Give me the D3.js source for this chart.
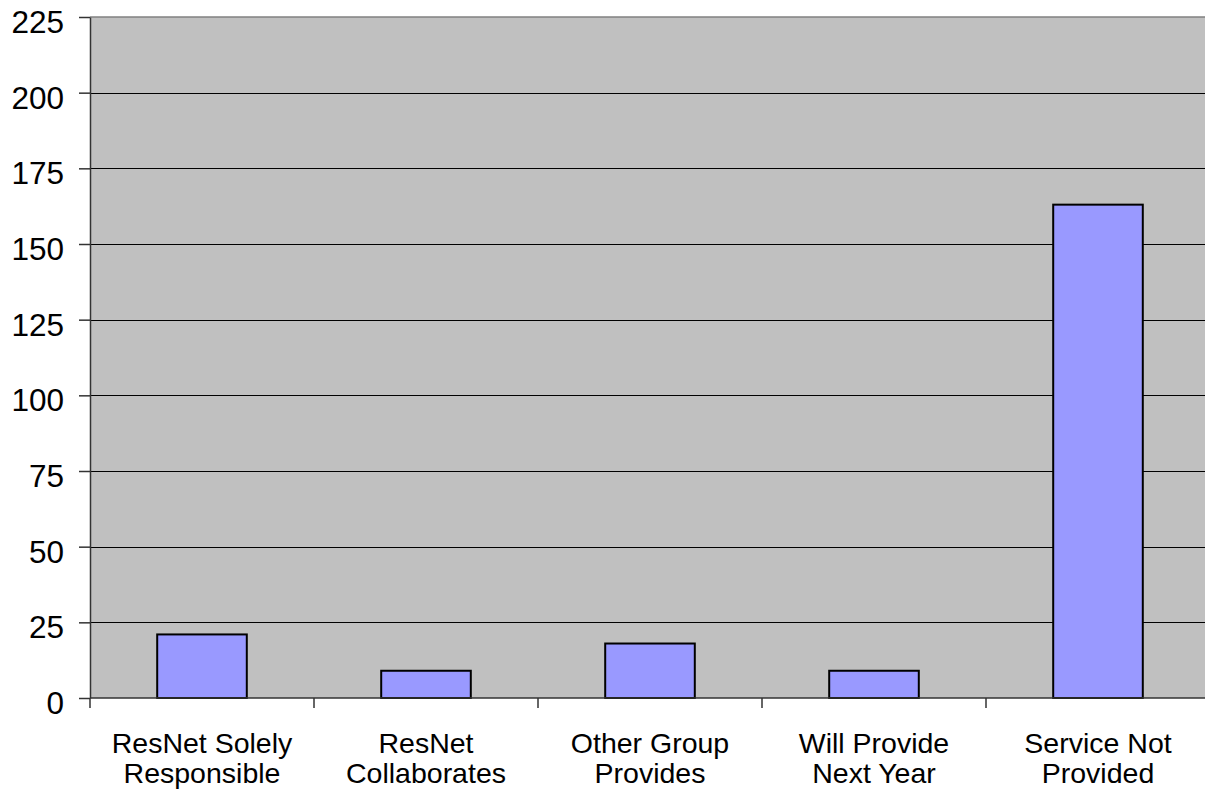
<!DOCTYPE html>
<html><head><meta charset="utf-8">
<script src="https://cdn.jsdelivr.net/npm/d3@7"></script>
<style>html,body{margin:0;padding:0;background:#fff;overflow:hidden}</style>
</head><body>
<svg id="c" width="1205" height="794"></svg>
<script>
const categories = [["ResNet Solely","Responsible"],["ResNet","Collaborates"],["Other Group","Provides"],["Will Provide","Next Year"],["Service Not","Provided"]];
const values = [21, 9, 18, 9, 163];
const yTicks = [0,25,50,75,100,125,150,175,200,225];

const svg = d3.select("#c");
const L = 90, R = 1210, T = 17, B = 698;
const x = d3.scaleBand().domain(d3.range(categories.length)).range([L, R]).paddingInner(0.6).paddingOuter(0.3);
const xb = d3.scaleBand().domain(d3.range(categories.length)).range([L, R]);
const y = d3.scaleLinear().domain([0,225]).range([B, T]);

svg.append("rect").attr("x",L).attr("y",T).attr("width",R-L).attr("height",B-T).attr("fill","#c0c0c0");
svg.append("line").attr("x1",L).attr("x2",R).attr("y1",T).attr("y2",T).attr("stroke","#808080").attr("stroke-width",1.5);
svg.append("g").selectAll("line").data(yTicks.filter(d=>d>0&&d<225)).join("line")
  .attr("x1",L).attr("x2",R).attr("y1",d=>Math.round(y(d))+0.5).attr("y2",d=>Math.round(y(d))+0.5)
  .attr("stroke","#000").attr("stroke-width",1);

svg.append("g").selectAll("rect").data(values).join("rect")
  .attr("x",(d,i)=>x(i)).attr("width",x.bandwidth())
  .attr("y",d=>y(d)).attr("height",d=>B-y(d))
  .attr("fill","#9999ff").attr("stroke","#000").attr("stroke-width",2);

// y axis
const ya = svg.append("g").attr("transform",`translate(${L},0)`).call(d3.axisLeft(y).tickValues(yTicks).tickSize(11).tickSizeOuter(0));
ya.select(".domain").attr("stroke","#333").attr("stroke-width",1.5);
ya.selectAll(".tick line").attr("stroke","#333").attr("stroke-width",1.5);
ya.selectAll(".tick text").attr("font-family","Liberation Sans, Arial, sans-serif").attr("font-size",31.5).attr("fill","#000")
  .attr("x",-26).attr("dy",null).attr("y",15.5);

// x axis
const xa = svg.append("g").attr("transform",`translate(0,${B})`).call(d3.axisBottom(xb).tickSize(0).tickFormat(""));
xa.select(".domain").remove();
svg.append("line").attr("x1",L).attr("x2",R).attr("y1",B).attr("y2",B).attr("stroke","#333").attr("stroke-width",1.5);
svg.append("g").selectAll("line").data(d3.range(categories.length+1)).join("line")
  .attr("x1",i=>L+i*xb.step()).attr("x2",i=>L+i*xb.step()).attr("y1",B).attr("y2",B+10)
  .attr("stroke","#333").attr("stroke-width",1.5);
const lab = svg.append("g").selectAll("text").data(categories).join("text")
  .attr("x",(d,i)=>xb(i)+xb.bandwidth()/2).attr("y",752.5)
  .attr("text-anchor","middle").attr("font-family","Liberation Sans, Arial, sans-serif").attr("font-size",28.5).attr("fill","#000");
lab.selectAll("tspan").data(d=>d).join("tspan").attr("x",function(){return this.parentNode.getAttribute("x");})
  .attr("dy",(d,i)=>i?30:0).text(d=>d);
</script>
</body></html>
